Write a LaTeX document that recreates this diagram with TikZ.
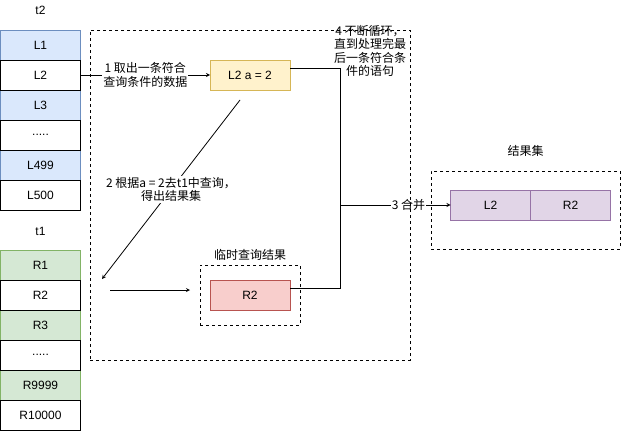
\documentclass[tikz,border=0pt]{standalone}
\usepackage{fontspec}
\setmainfont{Liberation Sans}
\newfontfamily\cjk{Noto Sans CJK SC}
\usetikzlibrary{positioning}
\definecolor{blueFill}{HTML}{DAE8FC}
\definecolor{blueLine}{HTML}{6C8EBF}
\definecolor{greenFill}{HTML}{D5E8D4}
\definecolor{greenLine}{HTML}{82B366}
\definecolor{yellowFill}{HTML}{FFF2CC}
\definecolor{yellowLine}{HTML}{D6B656}
\definecolor{redFill}{HTML}{F8CECC}
\definecolor{redLine}{HTML}{B85450}
\definecolor{purpleFill}{HTML}{E1D5E7}
\definecolor{purpleLine}{HTML}{9673A6}
\begin{document}
\begin{tikzpicture}[x=1pt,y=-1pt,font=\fontsize{12}{13.5}\selectfont,>=stealth,line width=0.8pt,
  cell/.style={draw,minimum width=80pt,minimum height=30pt,inner sep=0pt,outer sep=0pt},
  rowL/.style={cell,draw=blueLine,fill=blueFill},
  rowR/.style={cell,draw=greenLine,fill=greenFill},
  rowW/.style={cell,draw=black,fill=white},
  grp/.style={draw,dash pattern=on 3pt off 3pt,inner sep=0pt,outer sep=0pt},
  lbl/.style={fill=white,align=center,inner sep=1pt}]
  \useasboundingbox (0,0) rectangle (621,431);
  % table t2
  \node (t2) at (40.5,10) {t2};
  \node[rowL] (l1) at (40.5,45) {L1};
  \node[rowL] (l3) at (40.5,105) {L3};
  \node[rowL] (l499) at (40.5,165) {L499};
  \node[rowW] (l2) at (40.5,75) {L2};
  \node[rowW] (ldots) at (40.5,135) {.....};
  \node[rowW] (l500) at (40.5,195) {L500};
  % table t1
  \node (t1) at (40.5,231) {t1};
  \node[rowR] (r1) at (40.5,265) {R1};
  \node[rowR] (r3) at (40.5,325) {R3};
  \node[rowR] (r9999) at (40.5,385) {R9999};
  \node[rowW] (r2) at (40.5,295) {R2};
  \node[rowW] (rdots) at (40.5,355) {.....};
  \node[rowW] (r10000) at (40.5,415) {R10000};
  % current row
  \node[cell,draw=yellowLine,fill=yellowFill] (cur) at (250,75) {L2 a = 2};
  % temporary result
  \node[grp,minimum width=100pt,minimum height=60pt] (tmpgrp) at (250,295) {};
  \node[above=1pt of tmpgrp] (tmptitle) {\cjk 临时查询结果};
  \node[cell,draw=redLine,fill=redFill] (tmp) at (250,295) {R2};
  % result set
  \node[grp,minimum width=189pt,minimum height=78pt] (resgrp) at (525.5,210) {};
  \node[above=11pt of resgrp] (restitle) {\cjk 结果集};
  \node[cell,draw=purpleLine,fill=purpleFill] (rl2) at (490.5,205) {L2};
  \node[cell,draw=purpleLine,fill=purpleFill] (rr2) at (570.5,205) {R2};
  % connectors
  \coordinate (qs) at (240,100);
  \coordinate (qe) at (102,279);
  \coordinate (ts) at (110,290);
  \coordinate (te) at (190,290);
  \coordinate (jn) at (340,205);
  \draw[->] (l2) -- node[lbl] {\cjk 1 取出一条符合\\\cjk 查询条件的数据} (cur);
  \draw[->] (qs) -- node[lbl] {\cjk 2 根据a = 2去t1中查询，\\\cjk 得出结果集} (qe);
  \draw[->] (ts) -- (te);
  \draw ([yshift=7pt]cur.east) -| (jn);
  \draw ([yshift=7pt]tmp.east) -| (jn);
  \draw[->] (jn) -- node[lbl,pos=0.62] {\cjk 3 合并} (rl2);
  \node[align=center] (loopnote) at (370,51) {\cjk 4 不断循环，\\\cjk 直到处理完最\\\cjk 后一条符合条\\\cjk 件的语句};
  % loop area (on top of the labels)
  \node[grp,minimum width=320pt,minimum height=330pt] (loopgrp) at (250,195) {};
\end{tikzpicture}
\end{document}
